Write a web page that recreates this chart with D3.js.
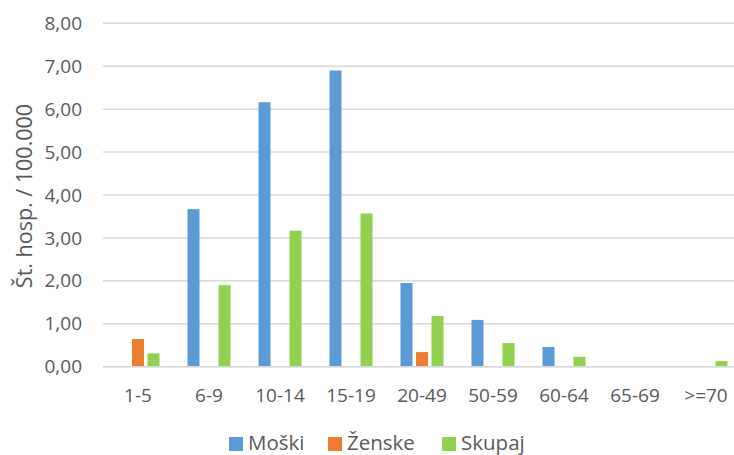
<!DOCTYPE html>
<html>
<head>
<meta charset="utf-8">
<script src="https://cdn.jsdelivr.net/npm/d3@7"></script>
<style>
  body { margin: 0; background: #fff; }
  text { font-family: "Open Sans", sans-serif; fill: #595959; }
</style>
</head>
<body>
<div id="chart"></div>
<script>
// data
var categories = ["1-5", "6-9", "10-14", "15-19", "20-49", "50-59", "60-64", "65-69", ">=70"]
var seriesNames = ["Moški", "Ženske", "Skupaj"]
var moski  = [0, 3.67, 6.16, 6.90, 1.95, 1.09, 0.46, 0, 0]
var zenske = [0.645, 0, 0, 0, 0.34, 0, 0, 0, 0]
var skupaj = [0.31, 1.90, 3.17, 3.57, 1.18, 0.55, 0.23, 0, 0.13]
var yTicks = [0, 1, 2, 3, 4, 5, 6, 7, 8]
var colors = ["#5B9BD5", "#ED7D31", "#92D050"]

var width = 734
var height = 455

// table built from the arrays above
var table = categories.map(function(c, i){
  return { cat: c, values: [moski[i], zenske[i], skupaj[i]] }
})

var svg = d3.select("#chart").append("svg")
  .attr("width", width)
  .attr("height", height)

// plot area runs past the right edge, as in the reference crop
var x0 = d3.scaleBand().domain(categories).range([102.5, 741.5])
var x1 = d3.scaleBand().domain(seriesNames).range([14, 57]).paddingInner(0.226)
var y = d3.scaleLinear().domain([0, 8]).range([366.7, 23.3])

// gridlines
svg.append("g")
  .selectAll("line")
  .data(yTicks)
  .join("line")
  .attr("x1", 103)
  .attr("x2", width)
  .attr("y1", function(d){ return y(d) })
  .attr("y2", function(d){ return y(d) })
  .style("stroke", "#D9D9D9")
  .style("stroke-width", 1.5)

// y axis labels
var fmt = function(d){ return d3.format(".2f")(d).replace(".", ",") }
var yAxis = d3.axisLeft(y).tickValues(yTicks).tickFormat(fmt).tickSize(0).tickPadding(0)
svg.append("g")
  .attr("transform", "translate(82,0)")
  .call(yAxis)
  .call(function(g){ g.select(".domain").remove() })
  .selectAll("text")
  .style("font-family", "'Open Sans', sans-serif")
  .style("font-size", "19px")
  .style("fill", "#595959")

// bars
var groups = svg.append("g")
  .selectAll("g")
  .data(table)
  .join("g")
  .attr("transform", function(d){ return `translate(${x0(d.cat)},0)` })

groups.selectAll("rect")
  .data(function(d){ return d.values.map(function(v, i){ return { name: seriesNames[i], v: v, i: i } }) })
  .join("rect")
  .attr("x", function(d){ return x1(d.name) })
  .attr("width", x1.bandwidth())
  .attr("y", function(d){ return y(d.v) })
  .attr("height", function(d){ return y(0) - y(d.v) })
  .style("fill", function(d){ return colors[d.i] })

// baseline drawn over the bars
svg.append("line")
  .attr("x1", 103)
  .attr("x2", width)
  .attr("y1", y(0))
  .attr("y2", y(0))
  .style("stroke", "#D9D9D9")
  .style("stroke-width", 1.5)

// x axis labels
var xAxis = d3.axisBottom(x0).tickSize(0).tickPadding(0)
svg.append("g")
  .attr("transform", "translate(0,382)")
  .call(xAxis)
  .call(function(g){ g.select(".domain").remove() })
  .selectAll("text")
  .attr("dy", 0)
  .attr("y", 19.5)
  .style("font-family", "'Open Sans', sans-serif")
  .style("font-size", "19px")
  .style("fill", "#595959")

// y axis title
svg.append("text")
  .attr("transform", "translate(32,196) rotate(-90)")
  .attr("text-anchor", "middle")
  .style("font-size", "21.5px")
  .text("Št. hosp. / 100.000")

// legend
var legendX = [229, 328, 442]
var legend = svg.append("g")
  .selectAll("g")
  .data(seriesNames)
  .join("g")
  .attr("transform", function(d, i){ return `translate(${legendX[i]},437)` })

legend.append("rect")
  .attr("width", 14)
  .attr("height", 14)
  .style("fill", function(d, i){ return colors[i] })

legend.append("text")
  .attr("x", 19)
  .attr("y", 13)
  .style("font-size", "20.5px")
  .text(function(d){ return d })
</script>
</body>
</html>
